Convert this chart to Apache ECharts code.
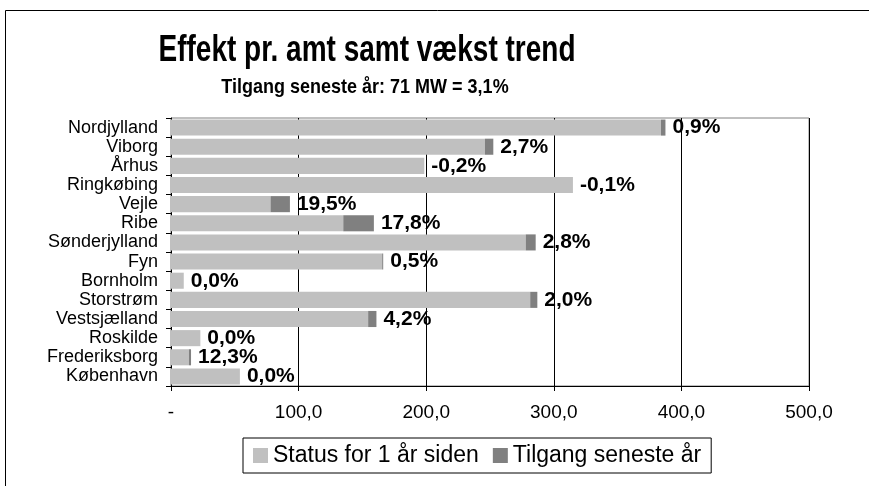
<!DOCTYPE html>
<html>
<head>
<meta charset="utf-8">
<script src="https://cdn.jsdelivr.net/npm/echarts@6/dist/echarts.min.js"></script>
<style>
  html, body { margin: 0; padding: 0; background: #fff; }
  #chart { width: 869px; height: 486px; }
</style>
</head>
<body>
<div id="chart"></div>
<script>
// Amter, top to bottom
const amter = ['Nordjylland', 'Viborg', 'Århus', 'Ringkøbing', 'Vejle', 'Ribe', 'Sønderjylland',
    'Fyn', 'Bornholm', 'Storstrøm', 'Vestsjælland', 'Roskilde', 'Frederiksborg', 'København'];

// MW for 1 aar siden
const status = [384, 246, 198.5, 315, 78, 135, 278, 165.5, 10, 281.5, 154.5, 23, 14, 54];

// MW tilgang seneste aar
const tilgang = [3.5, 6.6, 0, 0, 15.2, 24, 7.8, 0.8, 0, 5.6, 6.5, 0, 1.7, 0];

// vaekst i procent (labels)
const vaekst = ['0,9%', '2,7%', '-0,2%', '-0,1%', '19,5%', '17,8%', '2,8%', '0,5%', '0,0%', '2,0%',
    '4,2%', '0,0%', '12,3%', '0,0%'];

const FONT = "'Liberation Sans', Arial, sans-serif";

const chart = echarts.init(document.getElementById('chart'));

const option = {
    animation: false,
    textStyle: { fontFamily: FONT, color: '#000' },
    graphic: [
        {
            type: 'rect',
            shape: { x: 5.5, y: 10.5, width: 900, height: 500 },
            style: { fill: 'none', stroke: '#000', lineWidth: 1 }
        },
        {
            type: 'text',
            x: 367, y: 51, scaleY: 1.3,
            style: {
                text: 'Effekt pr. amt samt vækst trend',
                font: "bold 28px " + FONT,
                fill: '#000', align: 'center', verticalAlign: 'middle'
            }
        },
        {
            type: 'text',
            x: 365, y: 88, scaleY: 1.1,
            style: {
                text: 'Tilgang seneste år: 71 MW = 3,1%',
                font: "bold 18px " + FONT,
                fill: '#000', align: 'center', verticalAlign: 'middle'
            }
        }
    ],
    grid: {
        left: 171, right: 60, top: 118, bottom: 100,
        show: true, borderColor: '#808080', borderWidth: 1
    },
    legend: {
        left: 243, top: 438,
        padding: [6, 10, 6, 10],
        borderColor: '#000', borderWidth: 1,
        icon: 'rect', itemWidth: 15, itemHeight: 15, itemGap: 14,
        textStyle: { fontSize: 23, fontFamily: FONT, color: '#000' },
        data: ['Status for 1 år siden', 'Tilgang seneste år']
    },
    xAxis: {
        type: 'value',
        min: 0, max: 500, interval: 100,
        axisLine: { show: true, lineStyle: { color: '#000' } },
        axisTick: { show: true, length: 5, lineStyle: { color: '#000' } },
        splitLine: { show: true, lineStyle: { color: '#000', width: 1 } },
        axisLabel: {
            fontSize: 19, color: '#000', margin: 17,
            formatter: v => v === 0 ? '-' : v.toFixed(1).replace('.', ',')
        }
    },
    yAxis: {
        type: 'category',
        inverse: true,
        data: amter,
        axisLine: { show: true, lineStyle: { color: '#000' } },
        axisTick: { show: true, length: 5, lineStyle: { color: '#000' } },
        axisLabel: { fontSize: 18, color: '#000', margin: 13, interval: 0, lineHeight: 18 }
    },
    series: [
        {
            name: 'Status for 1 år siden',
            type: 'bar',
            stack: 'effekt',
            data: status,
            barCategoryGap: '16%',
            itemStyle: { color: '#C0C0C0' }
        },
        {
            name: 'Tilgang seneste år',
            type: 'bar',
            stack: 'effekt',
            data: tilgang,
            itemStyle: { color: '#808080' },
            label: {
                show: true,
                position: 'right',
                distance: 7,
                fontSize: 21,
                fontWeight: 'bold',
                color: '#000',
                formatter: p => vaekst[p.dataIndex]
            }
        }
    ]
};
chart.setOption(option);
</script>
</body>
</html>
